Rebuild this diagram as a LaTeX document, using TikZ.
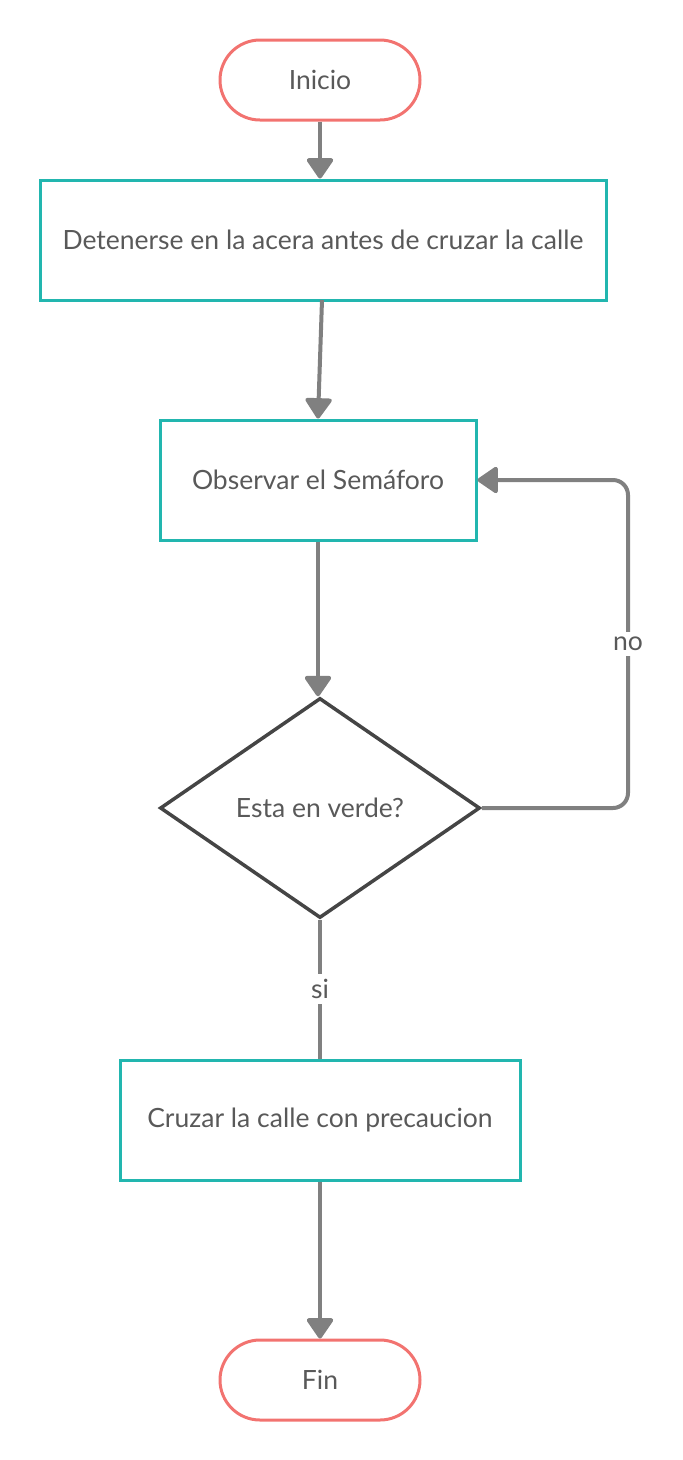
\documentclass[tikz,border=0pt]{standalone}
\usepackage{fontspec}
\setmainfont{Lato}
\usetikzlibrary{arrows.meta,shapes.geometric}
\definecolor{termc}{HTML}{F27370}
\definecolor{procc}{HTML}{22B6AF}
\definecolor{decc}{HTML}{454545}
\definecolor{linec}{HTML}{808080}
\definecolor{txtc}{HTML}{595959}
\tikzset{
  term/.style={draw=termc, line width=3pt, rounded corners=40pt, minimum width=200pt, minimum height=80pt, inner sep=0pt, text=txtc, font=\fontsize{26.5}{30}\selectfont},
  proc/.style={draw=procc, line width=3pt, minimum height=120pt, inner sep=0pt, text=txtc, font=\fontsize{26.5}{30}\selectfont},
  dec/.style={draw=decc, line width=3.5pt, diamond, aspect=1.4545, minimum width=320pt, minimum height=220pt, inner sep=0pt, text=txtc, font=\fontsize{26.5}{30}\selectfont},
  conn/.style={draw=linec, line width=4pt},
  arr/.style={conn, -{Triangle[width=29pt,length=22pt,line join=round]}},
  lbl/.style={fill=white, text=txtc, inner sep=5pt, font=\fontsize{26.5}{30}\selectfont}
}
\begin{document}
\begin{tikzpicture}[x=1pt,y=-1pt]
\useasboundingbox (0,0) rectangle (683,1460);
\node[term] (ini) at (320,80) {Inicio};
\node[proc, minimum width=566pt] (b1) at (323,240) {Detenerse en la acera antes de cruzar la calle};
\node[proc, minimum width=316pt] (b2) at (318,480) {Observar el Semáforo};
\node[dec] (d) at (320,808) {Esta en verde?};
\node[proc, minimum width=400pt] (b3) at (320,1120) {Cruzar la calle con precaucion};
\node[term] (fin) at (320,1380) {Fin};
\coordinate (c1) at (628,808);
\coordinate (c2) at (628,480);
\draw[arr] (ini.south) -- (b1.north -| ini.south);
\draw[arr] (322,300) -- (b2.north);
\draw[arr] (b2.south) -- (d.north -| b2.south);
\draw[arr, rounded corners=15pt] (d.east) -- (c1) -- node[lbl, pos=0.5] {no} (c2) -- (b2.east);
\draw[conn] (d.south) -- node[lbl] {si} (b3.north);
\draw[arr] (b3.south) -- (fin.north);
\end{tikzpicture}
\end{document}
